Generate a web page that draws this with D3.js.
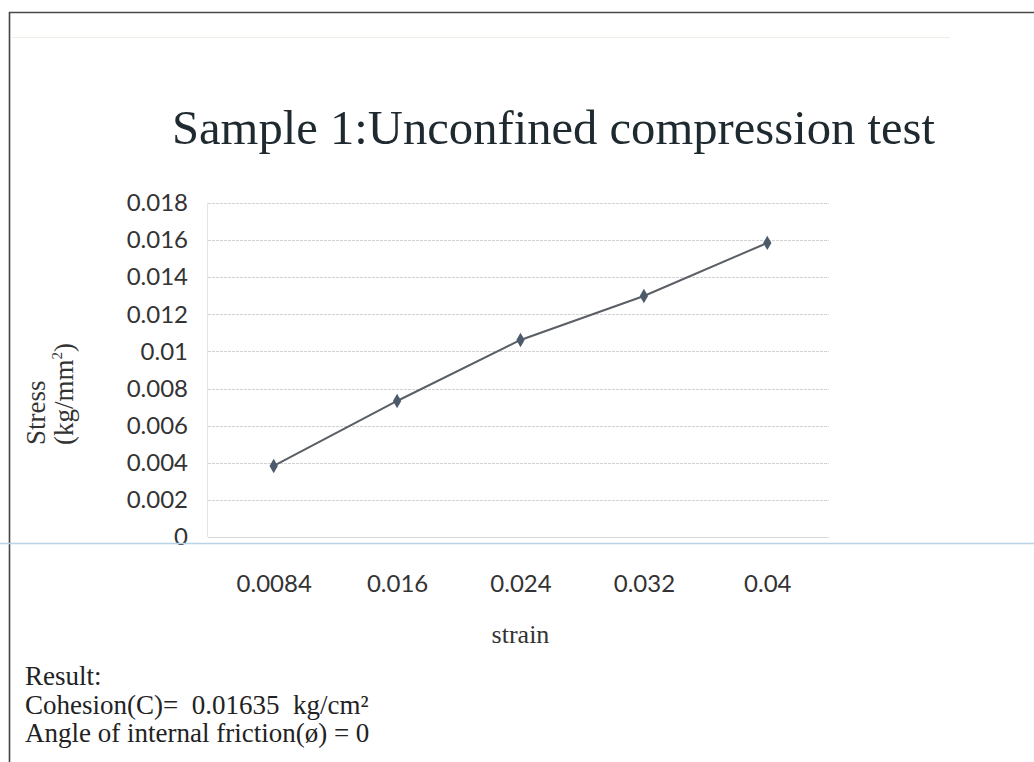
<!DOCTYPE html>
<html>
<head>
<meta charset="utf-8">
<script src="https://cdn.jsdelivr.net/npm/d3@7"></script>
<style>
  html, body { margin: 0; padding: 0; background: #fff; }
  svg { display: block; }
</style>
</head>
<body>
<svg id="chart" width="1034" height="762"></svg>
<script>
// Unconfined compression test, sample 1: stress against strain
const strainLabels = ["0.0084", "0.016", "0.024", "0.032", "0.04"];
const stressValues = [0.00383, 0.00733, 0.01062, 0.01299, 0.01585];
const yTicks = [0, 0.002, 0.004, 0.006, 0.008, 0.01, 0.012, 0.014, 0.016, 0.018];
const resultLines = [
  "Result:",
  "Cohesion(C)=\u00a0 0.01635\u00a0 kg/cm\u00b2",
  "Angle of internal friction(\u00f8) = 0"
];

const svg = d3.select("#chart");
const W = 1034, H = 762;

const plot = { left: 212, right: 829, top: 203, bottom: 537 };

const x = d3.scalePoint()
  .domain(strainLabels)
  .range([plot.left, plot.right])
  .padding(0.5);

const y = d3.scaleLinear()
  .domain([0, 0.018])
  .range([plot.bottom, plot.top]);

const serif = "'Liberation Serif', 'DejaVu Serif', serif";
const sans = "Lato, 'Open Sans', sans-serif";

// page frame
svg.append("line")
  .attr("x1", 9).attr("x2", W).attr("y1", 12.5).attr("y2", 12.5)
  .attr("stroke", "#4a4a4a").attr("stroke-width", 1.6);
svg.append("line")
  .attr("x1", 9.5).attr("x2", 9.5).attr("y1", 12).attr("y2", H)
  .attr("stroke", "#444").attr("stroke-width", 1.6);
svg.append("line")
  .attr("x1", 12).attr("x2", 950).attr("y1", 37.5).attr("y2", 37.5)
  .attr("stroke", "#f1ece6").attr("stroke-width", 1);

// title
svg.append("text")
  .attr("x", 172).attr("y", 144)
  .attr("textLength", 763)
  .attr("lengthAdjust", "spacingAndGlyphs")
  .attr("font-family", serif)
  .attr("font-size", 49)
  .attr("fill", "#1f2a30")
  .text("Sample 1:Unconfined compression test");

// horizontal gridlines
svg.append("g")
  .selectAll("line")
  .data(yTicks.filter(d => d > 0))
  .join("line")
  .attr("x1", plot.left - 4).attr("x2", plot.right)
  .attr("y1", d => Math.round(y(d)) + 0.5).attr("y2", d => Math.round(y(d)) + 0.5)
  .attr("stroke", "#d2d2d2").attr("stroke-width", 1)
  .attr("stroke-dasharray", "3 1");

// value axis
const yAxis = d3.axisLeft(y)
  .tickValues(yTicks)
  .tickSize(0)
  .tickPadding(0)
  .tickFormat(d => String(+d.toFixed(3)));

const gy = svg.append("g")
  .attr("transform", `translate(188,0)`)
  .call(yAxis);
gy.select(".domain").remove();
gy.selectAll("text")
  .attr("font-family", sans)
  .attr("font-size", 24)
  .attr("fill", "#333");

svg.append("line")
  .attr("x1", plot.left - 4.5).attr("x2", plot.left - 4.5)
  .attr("y1", plot.top).attr("y2", plot.bottom)
  .attr("stroke", "#e4e4e4");

// category axis
const xAxis = d3.axisBottom(x).tickSize(0).tickPadding(0);
const gx = svg.append("g")
  .attr("transform", `translate(0,583)`)
  .call(xAxis);
gx.select(".domain").remove();
gx.selectAll("text")
  .attr("y", 0)
  .attr("dy", "0.36em")
  .attr("font-family", sans)
  .attr("font-size", 24)
  .attr("fill", "#333");

svg.append("line")
  .attr("x1", plot.left - 4).attr("x2", plot.right)
  .attr("y1", plot.bottom + 0.5).attr("y2", plot.bottom + 0.5)
  .attr("stroke", "#dadada");

// light band across the sheet below the value axis
svg.append("line")
  .attr("x1", 0).attr("x2", W).attr("y1", 543.5).attr("y2", 543.5)
  .attr("stroke", "#b9d3e6").attr("stroke-width", 1.5);

// axis titles
svg.append("text")
  .attr("x", (plot.left + plot.right) / 2).attr("y", 643)
  .attr("text-anchor", "middle")
  .attr("font-family", serif)
  .attr("font-size", 26)
  .attr("fill", "#333")
  .text("strain");

const yTitle = svg.append("text")
  .attr("transform", "translate(0,445) rotate(-90)")
  .attr("text-anchor", "start")
  .attr("font-family", serif)
  .attr("font-size", 27)
  .attr("fill", "#333");
yTitle.append("tspan").attr("x", 0).attr("y", 45).text("Stress");
const unit = yTitle.append("tspan").attr("x", 0).attr("y", 73);
unit.append("tspan").text("(kg/mm");
unit.append("tspan").attr("font-size", 15).attr("dy", -11).text("2");
unit.append("tspan").attr("dy", 11).text(")");

// stress-strain line with diamond markers
const line = d3.line()
  .x((d, i) => x(strainLabels[i]))
  .y(d => y(d));

svg.append("path")
  .datum(stressValues)
  .attr("d", line)
  .attr("fill", "none")
  .attr("stroke", "#5a5f66")
  .attr("stroke-width", 2);

svg.append("g")
  .selectAll("path")
  .data(stressValues)
  .join("path")
  .attr("d", d3.symbol(d3.symbolDiamond, 60))
  .attr("transform", (d, i) => `translate(${x(strainLabels[i])},${y(d)})`)
  .attr("fill", "#4c5b6b");

// result notes
svg.append("g")
  .selectAll("text")
  .data(resultLines)
  .join("text")
  .attr("x", 25)
  .attr("y", (d, i) => 685 + i * 28.5)
  .attr("font-family", serif)
  .attr("font-size", 27)
  .attr("fill", "#222")
  .text(d => d);
</script>
</body>
</html>
